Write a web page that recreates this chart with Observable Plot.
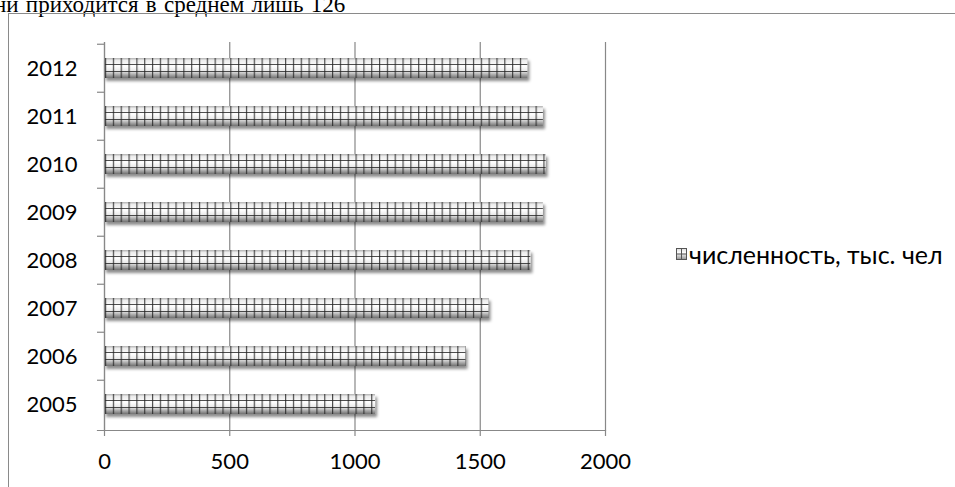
<!DOCTYPE html>
<html><head><meta charset="utf-8">
<script src="https://cdn.jsdelivr.net/npm/d3@7"></script>
<script src="https://cdn.jsdelivr.net/npm/@observablehq/plot@0.6"></script>
<style>
html,body{margin:0;padding:0;background:#fff;}
body{width:955px;height:487px;overflow:hidden;position:relative;font-family:Lato,"Open Sans",sans-serif;}
#top{position:absolute;left:0;top:0;}
#frame{position:absolute;left:8px;top:13px;width:1200px;height:800px;border-left:1.5px solid #8a8a8a;border-top:1.5px solid #8a8a8a;}
#chart{position:absolute;left:0;top:0;}
#legend{position:absolute;left:676px;top:239px;font-size:25px;white-space:nowrap;color:#000;display:flex;align-items:center;gap:2px;}
</style></head>
<body>
<svg id="top" width="955" height="20"><text x="-6" y="12" font-family="Liberation Serif" font-size="23" word-spacing="1.5" fill="#000">ни приходится в среднем лишь 126</text></svg>
<div id="frame"></div>
<div id="chart"></div>
<div id="legend"><svg width="11" height="12"><defs><linearGradient id="lg" x1="0" y1="0" x2="0" y2="1"><stop offset="0" stop-color="#d8d8d8"/><stop offset="0.4" stop-color="#fff"/><stop offset="1" stop-color="#8a8a8a"/></linearGradient></defs><rect x="0" y="0" width="11" height="12" fill="url(#lg)"/><path d="M5.5 0V12M0 6H11M0 0.5H11M0 11.5H11M0.5 0V12M10.5 0V12" stroke="#555" stroke-width="1"/></svg><span>численность, тыс. чел</span></div>
<script>
const years = ["2012","2011","2010","2009","2008","2007","2006","2005"];
const values = [1690, 1752, 1763, 1752, 1702, 1535, 1443, 1082];
const xTicks = [0, 500, 1000, 1500, 2000];
const seriesName = "численность, тыс. чел";

const data = years.map((y, i) => ({year: y, value: values[i]}));
const bandStep = 48.5;

const chart = Plot.plot({
  width: 955, height: 487,
  marginLeft: 104, marginRight: 350, marginTop: 42, marginBottom: 57,
  style: {fontFamily: "Lato, 'Open Sans', sans-serif", fontSize: "22px", color: "#000", background: "transparent"},
  x: {domain: [0, 2000]},
  y: {domain: years, paddingInner: 0.59, paddingOuter: 0.295, label: null},
  marks: [
    Plot.gridX(xTicks, {stroke: "#888", strokeOpacity: 1, strokeWidth: 1.2}),
    Plot.barX(data, {x: "value", y: "year", fill: "url(#cyl)"}),
    Plot.barX(data, {x: "value", y: "year", fill: "url(#hl)"}),
    Plot.barX(data, {x: "value", y: "year", fill: "url(#vl)"}),
    Plot.frame({anchor: "left", stroke: "#888", strokeWidth: 1.2}),
    Plot.frame({anchor: "bottom", stroke: "#888", strokeWidth: 1.2, insetLeft: -7}),
    Plot.axisY({tickSize: 7, tickFormat: () => "", dy: -bandStep / 2, stroke: "#888", strokeWidth: 1.2}),
    Plot.axisY({tickSize: 0, tickPadding: 27, fontSize: 22, fill: "#000"}),
    Plot.axisX({ticks: xTicks, tickFormat: d3.format("d"), tickSize: 6, tickPadding: 17, fontSize: 22, stroke: "#888", strokeWidth: 1.2, fill: "#000", label: null})
  ]
});
document.getElementById("chart").appendChild(chart);

const x0 = chart.scale("x").apply(0);
const svg = d3.select(chart);
const defs = svg.insert("defs", ":first-child");
const cyl = defs.append("linearGradient").attr("id", "cyl").attr("x1", 0).attr("y1", 0).attr("x2", 0).attr("y2", 1);
[[0, "#b0b0b0"], [0.12, "#ececec"], [0.4, "#ffffff"], [0.66, "#e8e8e8"], [0.84, "#a8a8a8"], [1, "#707070"]]
  .forEach(([o, c]) => cyl.append("stop").attr("offset", o).attr("stop-color", c));
const hl = defs.append("linearGradient").attr("id", "hl").attr("x1", 0).attr("y1", 0).attr("x2", 0).attr("y2", 1);
[[0, 0], [0.28, 0], [0.28, 0.8], [0.34, 0.8], [0.34, 0], [0.64, 0], [0.64, 0.8], [0.70, 0.8], [0.70, 0], [1, 0]]
  .forEach(([o, a]) => hl.append("stop").attr("offset", o).attr("stop-color", "#222").attr("stop-opacity", a));
const pw = chart.scale("x").apply(31.25) - x0;
const vl = defs.append("pattern").attr("id", "vl").attr("patternUnits", "userSpaceOnUse")
  .attr("x", x0 + 1).attr("y", 0).attr("width", pw).attr("height", 10);
vl.append("rect").attr("x", 0).attr("y", 0).attr("width", 1.2).attr("height", 10).attr("fill", "#222").attr("fill-opacity", 0.8);
const f = defs.append("filter").attr("id", "shadow").attr("x", "-5%").attr("y", "-40%").attr("width", "112%").attr("height", "190%");
f.append("feDropShadow").attr("dx", 2).attr("dy", 3).attr("stdDeviation", 1.8).attr("flood-color", "#000").attr("flood-opacity", 0.45);
const bars = chart.querySelectorAll('g[aria-label="bar"]');
if (bars.length) bars[0].setAttribute("filter", "url(#shadow)");
</script>
</body></html>
